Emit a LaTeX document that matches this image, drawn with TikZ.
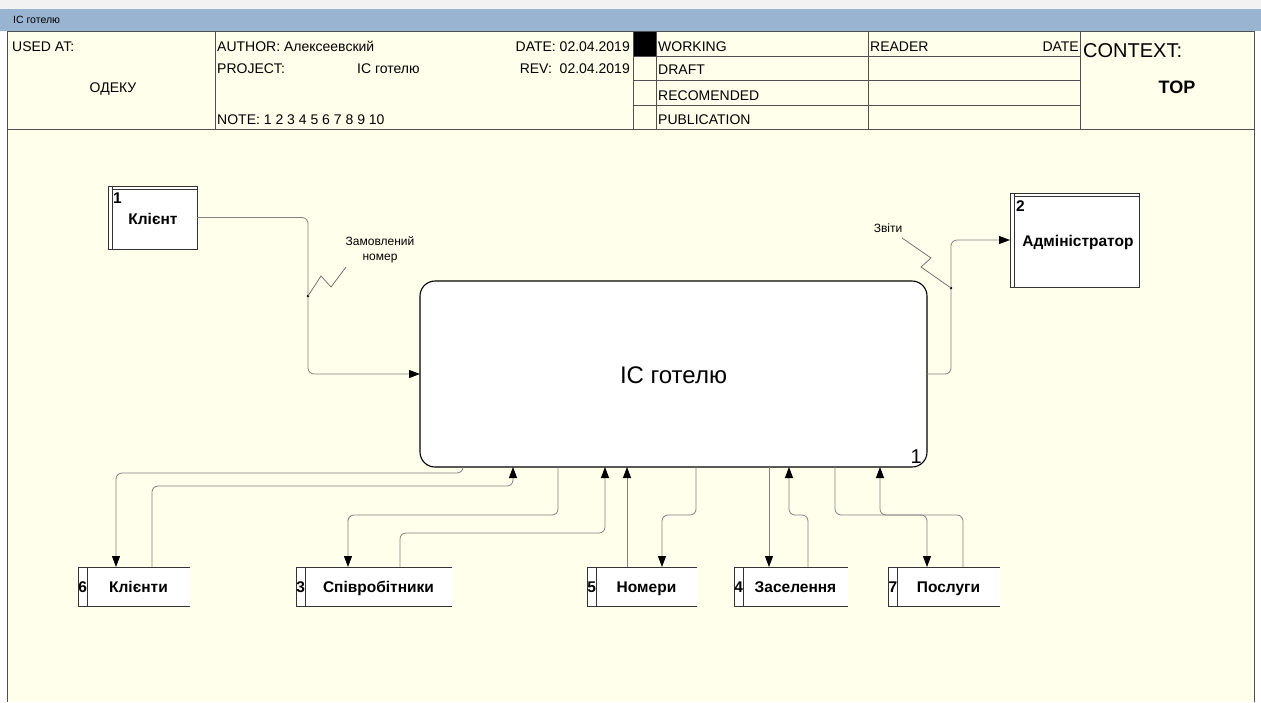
\documentclass[tikz,border=0pt]{standalone}
\usepackage{fontspec}
\setmainfont{Liberation Sans}
\usetikzlibrary{arrows.meta,calc}
\definecolor{cream}{HTML}{FFFFEB}
\definecolor{barblue}{HTML}{99B4D1}
\definecolor{conn}{HTML}{808080}
\definecolor{hline}{HTML}{505050}
\newcommand{\hdrfont}{\fontsize{14}{16}\selectfont}
\begin{document}
\begin{tikzpicture}[x=1pt,y=-1pt,
  hdr/.style={font=\hdrfont, inner sep=0pt, anchor=base west},
  hdrr/.style={font=\hdrfont, inner sep=0pt, anchor=base east},
  tline/.style={draw=hline, line width=0.9pt},
  conline/.style={draw=conn, line width=0.8pt, rounded corners=6pt},
  arr/.style={conline, -{Triangle[length=11pt,width=8pt,color=black]}},
  extbox/.style={draw=black!80, fill=white, line width=0.8pt, minimum width=#1, inner sep=0pt, outer sep=0pt, anchor=north west},
  storebox/.style={fill=white, minimum width=#1, minimum height=39, inner sep=0pt, outer sep=0pt, anchor=north west},
  btext/.style={font=\bfseries\fontsize{15.5}{18}\selectfont, inner sep=0pt},
  lbl/.style={font=\fontsize{12}{15}\selectfont, inner sep=0pt, align=center},
]
\useasboundingbox (0,0) rectangle (1261,702);
\fill[white] (0,0) rectangle (1261,702);
\fill[gray!10] (0,0) rectangle (1261,9);
\fill[barblue] (0,9) rectangle (1261,31);
\fill[cream] (7,31) rectangle (1254,702);
\node[font=\fontsize{10.5}{12}\selectfont, inner sep=0pt, anchor=west] (title) at (13,20) {IC готелю};

% header table
\fill[black] (633,31) rectangle (656,56);
\draw[tline] (7,31) -- (1254,31);
\draw[tline] (7,129) -- (1254,129);
\draw[tline] (7,31) -- (7,702);
\draw[tline] (1254,31) -- (1254,702);
\draw[tline] (215,31) -- (215,129);
\draw[tline] (633,31) -- (633,129);
\draw[tline] (656,31) -- (656,129);
\draw[tline] (868,31) -- (868,129);
\draw[tline] (1080,31) -- (1080,129);
\draw[tline] (633,56) -- (1080,56);
\draw[tline] (633,80) -- (1080,80);
\draw[tline] (633,105) -- (1080,105);

\node[hdr] (usedat) at (12,51) {USED AT:};
\node[font=\hdrfont, inner sep=0pt, anchor=base] (odeku) at (113,92) {ОДЕКУ};
\node[hdr] (author) at (217,51) {AUTHOR: Алексеевский};
\node[hdr] (project) at (217,73) {PROJECT:};
\node[hdr] (projname) at (357,73) {IC готелю};
\node[hdr] (note) at (217,124) {NOTE: 1 2 3 4 5 6 7 8 9 10};
\node[hdrr] (date) at (630,51) {DATE: 02.04.2019};
\node[hdrr] (rev) at (630,73) {REV:\ \ 02.04.2019};
\node[hdr] (working) at (658,51) {WORKING};
\node[hdr] (draft) at (658,74) {DRAFT};
\node[hdr] (recom) at (658,100) {RECOMENDED};
\node[hdr] (publ) at (658,124) {PUBLICATION};
\node[hdr] (reader) at (870,51) {READER};
\node[hdrr] (rdate) at (1079,51) {DATE};
\node[font=\fontsize{20}{22}\selectfont, inner sep=0pt, anchor=base west] (context) at (1083,57) {CONTEXT:};
\node[font=\bfseries\fontsize{18}{20}\selectfont, inner sep=0pt, anchor=base] (top) at (1177,93) {TOP};

% main process
\node[draw=black, fill=white, rounded corners=15pt, line width=1.1pt, minimum width=507, minimum height=186, inner sep=0pt, outer sep=0pt, anchor=north west] (p) at (420,281) {};
\node[font=\fontsize{24}{28}\selectfont, inner sep=0pt, anchor=base] (ptext) at (673.5,383) {IC готелю};
\node[font=\fontsize{20}{22}\selectfont, inner sep=0pt, anchor=south east] (pnum) at (922,464) {1};

% external entities
\node[extbox=89, minimum height=63] (kl) at (108,186) {};
\draw[black!80, line width=0.8pt] ([xshift=4]kl.north west) -- ([xshift=4]kl.south west);
\draw[black!80, line width=0.8pt] ([xshift=4,yshift=-3]kl.north west) -- ([yshift=-3]kl.north east);
\node[btext, anchor=north west] (kln) at (113,193) {1};
\node[btext, anchor=base] (klt) at (153,224) {Клієнт};

\node[extbox=129, minimum height=94] (ad) at (1010,193) {};
\draw[black!80, line width=0.8pt] ([xshift=4]ad.north west) -- ([xshift=4]ad.south west);
\draw[black!80, line width=0.8pt] ([xshift=4,yshift=-3]ad.north west) -- ([yshift=-3]ad.north east);
\node[btext, anchor=north west] (adn) at (1016,200) {2};
\node[btext, anchor=base] (adt) at (1078,246) {Адміністратор};

% data stores
\newcommand{\mystore}[5]{%
  \node[storebox=#3] (#1) at (#2,567) {};
  \draw[black!80, line width=0.8pt] (#1.north east) -- (#1.north west) -- (#1.south west) -- (#1.south east);
  \draw[black!80, line width=0.8pt] ([xshift=9]#1.north west) -- ([xshift=9]#1.south west);
  \node[btext, anchor=base] (#1n) at ([xshift=4.8,yshift=-5.5]#1.west) {#4};
  \path ($([xshift=9]#1.west)!0.5!(#1.east)$) coordinate (#1c);
  \node[btext, anchor=base] (#1t) at ([yshift=-5.5]#1c) {#5};
}
\mystore{s6}{78}{112}{6}{Клієнти}
\mystore{s3}{296}{156}{3}{Співробітники}
\mystore{s5}{587}{110}{5}{Номери}
\mystore{s4}{734}{114}{4}{Заселення}
\mystore{s7}{888}{112}{7}{Послуги}

% top connectors
\draw[arr] (kl.east) -| (308,374) -- (p.west);
\coordinate (d1) at (308,296);
\fill (d1) circle (1.4);
\draw[conn!80!black, line width=0.7pt] (d1) -- (321,276) -- (331,287) -- (346,267);
\node[lbl] (lz) at (380,250) {Замовлений\\номер};

\draw[arr] (p.east) -| (951,240) -- (ad.west);
\coordinate (d2) at (951,288);
\fill (d2) circle (1.4);
\draw[conn!80!black, line width=0.7pt] (d2) -- (921,267) -- (931,258) -- (902,238);
\node[lbl] (lzv) at (888,228) {Звіти};

% bottom connectors
\draw[arr] (463,0 |- p.south) -- (463,473) -| (116,0 |- s6.north);
\draw[arr] (152,0 |- s6.north) |- (513,486) -- (513,0 |- p.south);
\draw[arr] (558,0 |- p.south) |- (348,515) -- (348,0 |- s3.north);
\draw[arr] (400,0 |- s3.north) |- (605,533) -- (605,0 |- p.south);
\draw[arr] (627,0 |- s5.north) -- (627,0 |- p.south);
\draw[arr] (696,0 |- p.south) |- (662,515) -- (662,0 |- s5.north);
\draw[arr] (769,0 |- p.south) -- (769,0 |- s4.north);
\draw[arr] (808,0 |- s4.north) |- (789,515) -- (789,0 |- p.south);
\draw[arr] (835,0 |- p.south) |- (927,515) -- (927,0 |- s7.north);
\draw[arr] (963,0 |- s7.north) |- (880,515) -- (880,0 |- p.south);
\end{tikzpicture}
\end{document}
